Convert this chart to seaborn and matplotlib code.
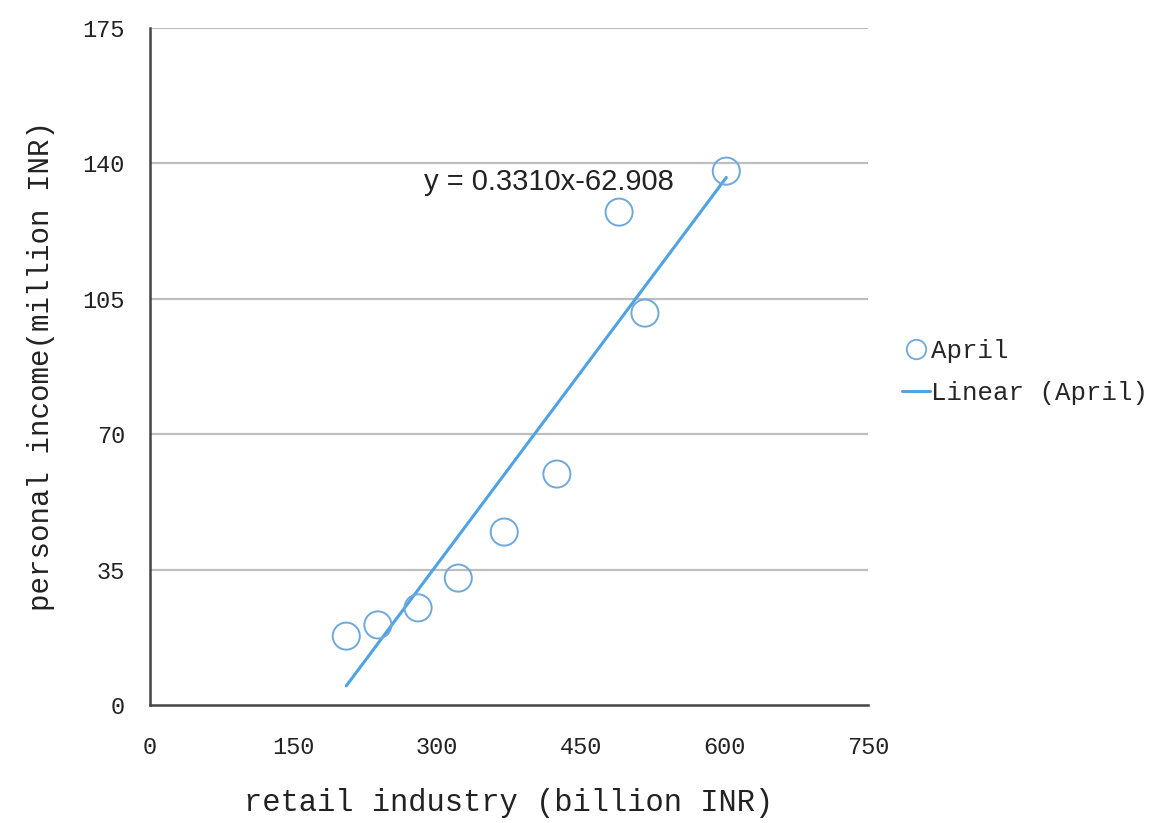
import numpy as np
import pandas as pd
import matplotlib
matplotlib.use("Agg")
import matplotlib.pyplot as plt
from matplotlib.lines import Line2D
import seaborn as sns

# dados
retail = [205, 238, 280, 322, 370, 425, 490, 517, 602]
income = [17.8, 20.7, 25.1, 32.8, 44.7, 59.7, 127.4, 101.3, 138.0]
slope = 0.3310
intercept = -62.908
x_ticks = [0, 150, 300, 450, 600, 750]
y_ticks = [0, 35, 70, 105, 140, 175]

df = pd.DataFrame({"retail": retail, "income": income})

sns.set_style("white")
mono = ["Liberation Mono", "DejaVu Sans Mono"]
cor_ponto = "#6FA8DC"
cor_linha = "#4FA3E3"

fig = plt.figure(figsize=(11.64, 8.23), dpi=100)
ax = fig.add_axes([0.1289, 0.1434, 0.6168, 0.8226])

for yv in y_ticks[1:]:
    ax.axhline(yv, color="#BEBEBE", lw=1.6, zorder=0)

sns.scatterplot(data=df, x="retail", y="income", ax=ax, s=380, marker="o",
                facecolor="none", edgecolor=cor_ponto, linewidth=1.4, zorder=3)

# linha de tendência
xs = np.array([min(retail), max(retail)])
tend = pd.DataFrame({"x": xs, "y": slope * xs + intercept})
sns.lineplot(data=tend, x="x", y="y", ax=ax, color=cor_linha, lw=2.2, zorder=2)

ax.annotate("y = 0.3310x-62.908", xy=(424, 823 - 182), xycoords="figure pixels",
            fontsize=21, family="Liberation Sans", color="#222222", va="center")

ax.set_xlim(0, 750)
ax.set_ylim(0, 175)
ax.set_xticks(x_ticks)
ax.set_yticks(y_ticks)
ax.set_xticklabels([str(v) for v in x_ticks], family=mono, fontsize=17, color="#222222")
ax.set_yticklabels([str(v) for v in y_ticks], family=mono, fontsize=17, color="#222222")
ax.tick_params(axis="x", length=0, pad=22)
ax.tick_params(axis="y", length=0, pad=18)

for lado in ["top", "right"]:
    ax.spines[lado].set_visible(False)
for lado in ["left", "bottom"]:
    ax.spines[lado].set_color("#444444")
    ax.spines[lado].set_linewidth(1.8)

ax.set_xlabel("retail industry (billion INR)", family=mono, fontsize=22, color="#222222", labelpad=21)
ax.set_ylabel("personal income(million INR)", family=mono, fontsize=21, color="#222222", labelpad=20)

handles = [
    Line2D([], [], marker="o", ls="none", markersize=14, markerfacecolor="none",
           markeredgecolor=cor_ponto, markeredgewidth=1.3),
    Line2D([], [], color=cor_linha, lw=2.2),
]
fig.legend(handles, ["April", "Linear (April)"], loc="center left",
           bbox_to_anchor=(0.755, 0.548), frameon=False, handlelength=1.1,
           handletextpad=0.05, labelspacing=0.7,
           prop={"family": mono, "size": 18.5})

fig.savefig("out.png", dpi=100)
